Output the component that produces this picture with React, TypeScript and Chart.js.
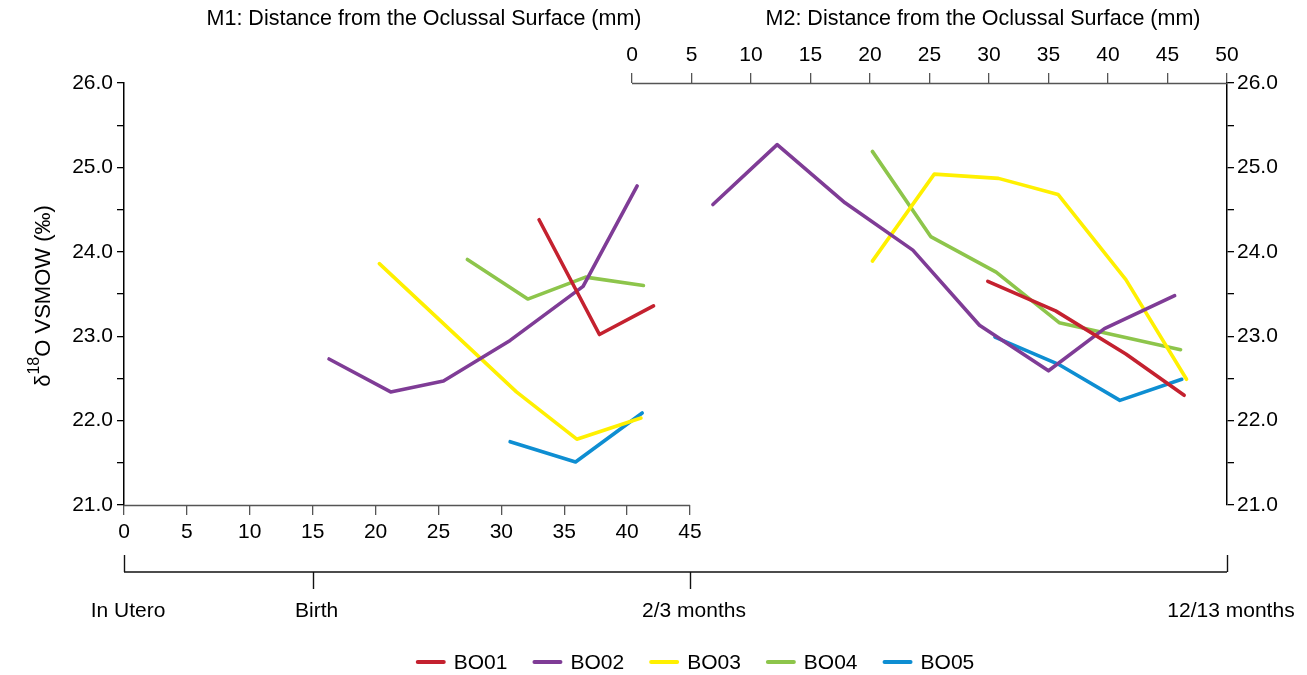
import React, { useEffect, useRef } from 'react';
import { Chart, registerables } from 'chart.js';

Chart.register(...registerables);

// ---------- DATA ----------
const seriesNames = ['BO01', 'BO02', 'BO03', 'BO04', 'BO05'];
const seriesColors = ['#C4212F', '#7F3C96', '#FFF000', '#8DC54B', '#0E8ED2'];

// M1 (first molar): distance from occlusal surface (mm) and δ18O values
const bo01M1X = [33.0, 37.8, 42.1];
const bo01M1Y = [24.38, 23.02, 23.36];
const bo02M1X = [16.3, 21.2, 25.4, 30.7, 36.5, 40.8];
const bo02M1Y = [22.73, 22.34, 22.47, 22.95, 23.59, 24.78];
const bo03M1X = [20.3, 31.2, 36.0, 41.1];
const bo03M1Y = [23.86, 22.34, 21.78, 22.03];
const bo04M1X = [27.3, 32.1, 36.7, 41.3];
const bo04M1Y = [23.91, 23.44, 23.70, 23.60];
const bo05M1X = [30.7, 35.9, 41.2];
const bo05M1Y = [21.75, 21.51, 22.09];

// M2 (second molar)
const bo01M2X = [29.9, 35.6, 41.5, 46.4];
const bo01M2Y = [23.65, 23.30, 22.79, 22.30];
const bo02M2X = [6.8, 12.2, 17.9, 23.6, 29.2, 35.0, 39.7, 45.6];
const bo02M2Y = [24.56, 25.27, 24.58, 24.02, 23.13, 22.59, 23.09, 23.48];
const bo03M2X = [20.2, 25.4, 30.8, 35.8, 41.5, 46.6];
const bo03M2Y = [23.89, 24.92, 24.87, 24.68, 23.67, 22.49];
const bo04M2X = [20.2, 25.1, 30.6, 35.9, 46.1];
const bo04M2Y = [25.19, 24.18, 23.76, 23.16, 22.84];
const bo05M2X = [30.5, 35.8, 41.0, 46.2];
const bo05M2Y = [22.99, 22.67, 22.24, 22.49];

const m1Xs = [bo01M1X, bo02M1X, bo03M1X, bo04M1X, bo05M1X];
const m1Ys = [bo01M1Y, bo02M1Y, bo03M1Y, bo04M1Y, bo05M1Y];
const m2Xs = [bo01M2X, bo02M2X, bo03M2X, bo04M2X, bo05M2X];
const m2Ys = [bo01M2Y, bo02M2Y, bo03M2Y, bo04M2Y, bo05M2Y];

const m1TickValues = [0, 5, 10, 15, 20, 25, 30, 35, 40, 45];
const m2TickValues = [0, 5, 10, 15, 20, 25, 30, 35, 40, 45, 50];
const yMin = 21;
const yMax = 26;
const yStep = 0.5;

const m1Title = 'M1: Distance from the Oclussal Surface (mm)';
const m2Title = 'M2: Distance from the Oclussal Surface (mm)';

// timeline: label, which molar scale, value on that scale
const timelineLabels = ['In Utero', 'Birth', '2/3 months', '12/13 months'];
const timelineScales = ['m1', 'm1', 'm1', 'm2'];
const timelineValues = [0, 15, 45, 50];

// ---------- LAYOUT ----------
const W = 1307;
const H = 675;
const AREA_L = 124;
const AREA_R = 1227;
const AREA_T = 83;
const AREA_B = 505;
const M1_END_PX = 690; // pixel of M1 = 45
const M2_START_PX = 632; // pixel of M2 = 0

const FONT = '"Liberation Sans", Arial, Helvetica, sans-serif';

const m1Max = 45 * (AREA_R - AREA_L) / (M1_END_PX - AREA_L);
const m2Min = -50 * (M2_START_PX - AREA_L) / (AREA_R - M2_START_PX);

const overlay = {
  id: 'overlay',
  afterDraw(chart: any) {
    const ctx = chart.ctx as CanvasRenderingContext2D;
    const sx = chart.scales.x;
    const sx2 = chart.scales.x2;
    const area = chart.chartArea;
    ctx.save();

    // x axis lines
    ctx.strokeStyle = '#555';
    ctx.lineWidth = 1.3;
    ctx.beginPath();
    ctx.moveTo(sx.getPixelForValue(m1TickValues[0]), area.bottom + 0.5);
    ctx.lineTo(sx.getPixelForValue(m1TickValues[m1TickValues.length - 1]), area.bottom + 0.5);
    ctx.stroke();
    ctx.beginPath();
    ctx.moveTo(sx2.getPixelForValue(m2TickValues[0]), area.top + 0.5);
    ctx.lineTo(sx2.getPixelForValue(m2TickValues[m2TickValues.length - 1]), area.top + 0.5);
    ctx.stroke();

    // axis titles on top
    ctx.fillStyle = '#000';
    ctx.font = `21.5px ${FONT}`;
    ctx.textAlign = 'center';
    ctx.textBaseline = 'middle';
    ctx.fillText(m1Title, 424, 19);
    ctx.fillText(m2Title, 983, 19);

    // Y axis title (rotated) δ18O VSMOW (‰)
    ctx.save();
    ctx.translate(50, 296);
    ctx.rotate(-Math.PI / 2);
    ctx.textBaseline = 'alphabetic';
    ctx.textAlign = 'left';
    const mainFont = `22px ${FONT}`;
    const supFont = `16px ${FONT}`;
    ctx.font = mainFont;
    const wD = ctx.measureText('δ').width;
    const wO = ctx.measureText('O VSMOW (‰)').width;
    ctx.font = supFont;
    const w18 = ctx.measureText('18').width;
    const total = wD + w18 + wO;
    let px = -total / 2;
    ctx.font = mainFont;
    ctx.fillText('δ', px, 0);
    px += wD;
    ctx.font = supFont;
    ctx.fillText('18', px, -11);
    px += w18;
    ctx.font = mainFont;
    ctx.fillText('O VSMOW (‰)', px, 0);
    ctx.restore();

    // timeline
    const tY = 572;
    const tpx = timelineValues.map((v, i) => (timelineScales[i] === 'm1' ? sx : sx2).getPixelForValue(v));
    ctx.strokeStyle = '#111';
    ctx.lineWidth = 1.4;
    ctx.beginPath();
    ctx.moveTo(tpx[0], tY);
    ctx.lineTo(tpx[tpx.length - 1], tY);
    ctx.stroke();
    tpx.forEach((p, i) => {
      const up = i === 0 || i === tpx.length - 1;
      ctx.beginPath();
      ctx.moveTo(Math.round(p) + 0.5, tY);
      ctx.lineTo(Math.round(p) + 0.5, up ? tY - 17 : tY + 17);
      ctx.stroke();
    });
    ctx.font = `21px ${FONT}`;
    ctx.textAlign = 'center';
    ctx.textBaseline = 'middle';
    timelineLabels.forEach((lab, i) => {
      ctx.fillText(lab, tpx[i] + 4, 611);
    });

    // legend
    ctx.font = `21px ${FONT}`;
    ctx.textAlign = 'left';
    ctx.textBaseline = 'middle';
    const lineLen = 30;
    const gapLT = 8;
    const gapItem = 25;
    const widths = seriesNames.map((n) => lineLen + gapLT + ctx.measureText(n).width);
    const totalW = widths.reduce((a, b) => a + b, 0) + gapItem * (seriesNames.length - 1);
    let lx = 695 - totalW / 2;
    const ly = 662;
    seriesNames.forEach((n, i) => {
      ctx.strokeStyle = seriesColors[i];
      ctx.lineWidth = 4;
      ctx.lineCap = 'round';
      ctx.beginPath();
      ctx.moveTo(lx + 2, ly);
      ctx.lineTo(lx + lineLen - 2, ly);
      ctx.stroke();
      ctx.fillStyle = '#000';
      ctx.fillText(n, lx + lineLen + gapLT, ly + 1);
      lx += widths[i] + gapItem;
    });

    ctx.restore();
  },
};

export default function App() {
  const canvasRef = useRef<HTMLCanvasElement | null>(null);

  useEffect(() => {
    if (!canvasRef.current) return;
    const datasets: any[] = [];
    seriesNames.forEach((name, i) => {
      datasets.push({
        label: name,
        data: m1Xs[i].map((x, k) => ({ x, y: m1Ys[i][k] })),
        xAxisID: 'x',
        yAxisID: 'y',
        borderColor: seriesColors[i],
        backgroundColor: seriesColors[i],
        borderWidth: 3.6,
        pointRadius: 0,
        tension: 0,
        borderCapStyle: 'round',
        borderJoinStyle: 'round',
        fill: false,
      });
    });
    seriesNames.forEach((name, i) => {
      datasets.push({
        label: name + ' M2',
        data: m2Xs[i].map((x, k) => ({ x, y: m2Ys[i][k] })),
        xAxisID: 'x2',
        yAxisID: 'y',
        borderColor: seriesColors[i],
        backgroundColor: seriesColors[i],
        borderWidth: 3.6,
        pointRadius: 0,
        tension: 0,
        borderCapStyle: 'round',
        borderJoinStyle: 'round',
        fill: false,
      });
    });

    const tickFont = { family: FONT, size: 21 };
    const yTickCb = (v: any) => (Math.abs(v - Math.round(v)) < 1e-6 ? Number(v).toFixed(1) : '');

    const chart = new Chart(canvasRef.current, {
      type: 'line',
      data: { datasets },
      plugins: [overlay],
      options: {
        animation: false,
        responsive: false,
        devicePixelRatio: 1,
        layout: { padding: 0 },
        plugins: { legend: { display: false }, tooltip: { enabled: false } },
        scales: {
          x: {
            type: 'linear',
            position: 'bottom',
            min: 0,
            max: m1Max,
            afterBuildTicks: (s: any) => {
              s.ticks = m1TickValues.map((v) => ({ value: v }));
            },
            afterFit: (s: any) => {
              s.height = H - AREA_B;
            },
            grid: { display: true, drawOnChartArea: false, drawTicks: true, tickLength: 10, color: '#555', lineWidth: 1.3 },
            border: { display: false },
            ticks: { font: tickFont, color: '#000', padding: 5, maxRotation: 0, autoSkip: false, callback: (v: any) => String(v) },
          },
          x2: {
            type: 'linear',
            position: 'top',
            min: m2Min,
            max: 50,
            afterBuildTicks: (s: any) => {
              s.ticks = m2TickValues.map((v) => ({ value: v }));
            },
            afterFit: (s: any) => {
              s.height = AREA_T;
            },
            grid: { display: true, drawOnChartArea: false, drawTicks: true, tickLength: 10, color: '#555', lineWidth: 1.3 },
            border: { display: false },
            ticks: { font: tickFont, color: '#000', padding: 5, maxRotation: 0, autoSkip: false, callback: (v: any) => String(v) },
          },
          y: {
            type: 'linear',
            position: 'left',
            min: yMin,
            max: yMax,
            afterFit: (s: any) => {
              s.width = AREA_L;
            },
            grid: { display: true, drawOnChartArea: false, drawTicks: true, tickLength: 7, color: '#000', lineWidth: 1.3 },
            border: { display: true, color: '#000', width: 1.5 },
            ticks: { stepSize: yStep, font: tickFont, color: '#000', padding: 4, autoSkip: false, callback: yTickCb },
          },
          y2: {
            type: 'linear',
            position: 'right',
            min: yMin,
            max: yMax,
            afterFit: (s: any) => {
              s.width = W - AREA_R;
            },
            grid: { display: true, drawOnChartArea: false, drawTicks: true, tickLength: 7, color: '#000', lineWidth: 1.3 },
            border: { display: true, color: '#000', width: 1.5 },
            ticks: { stepSize: yStep, font: tickFont, color: '#000', padding: 3, autoSkip: false, callback: yTickCb },
          },
        },
      } as any,
    });
    return () => chart.destroy();
  }, []);

  return (
    <div style={{ position: 'absolute', left: 0, top: 0, width: W, height: H, background: '#fff' }}>
      <canvas ref={canvasRef} width={W} height={H} style={{ width: W, height: H, display: 'block' }} />
    </div>
  );
}
